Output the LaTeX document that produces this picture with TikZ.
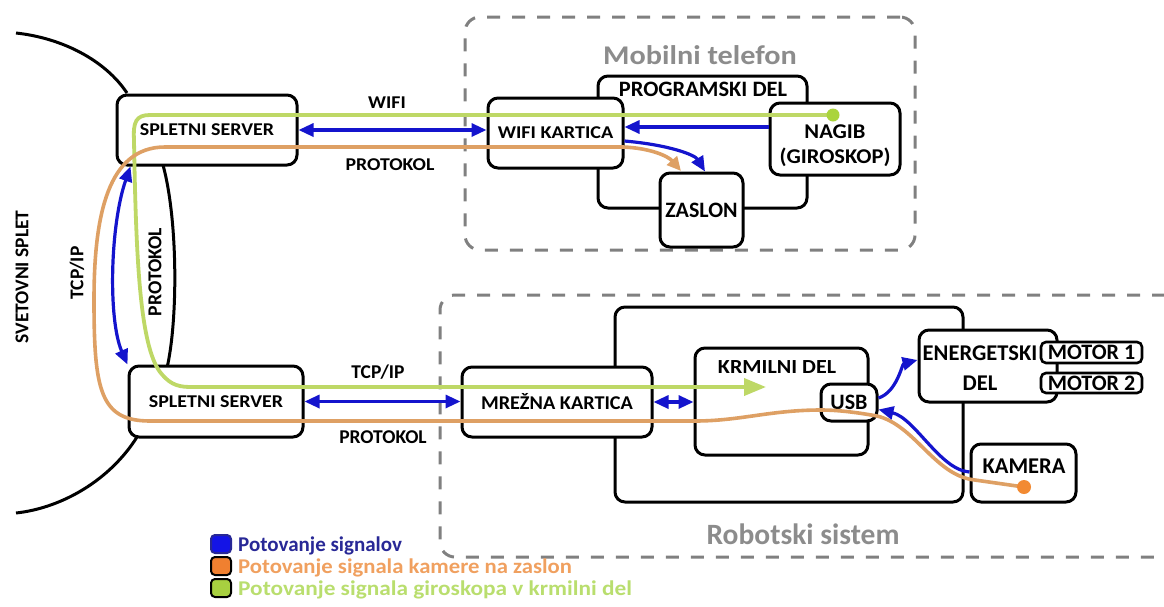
\documentclass[tikz,border=0pt]{standalone}
\usepackage{fontspec}
\setmainfont{Carlito}
\usetikzlibrary{arrows.meta}

\definecolor{sigblue}{RGB}{20,20,205}
\definecolor{camorange}{RGB}{222,160,100}
\definecolor{dotorange}{RGB}{242,138,50}
\definecolor{gyrogreen}{RGB}{190,216,102}
\definecolor{dotgreen}{RGB}{170,212,60}
\definecolor{framegray}{RGB}{128,128,128}
\definecolor{titlegray}{RGB}{140,140,140}
\definecolor{legblue}{RGB}{40,40,150}
\definecolor{legorange}{RGB}{240,160,95}
\definecolor{leggreen}{RGB}{185,222,110}
\definecolor{swblue}{RGB}{20,20,230}
\definecolor{sworange}{RGB}{240,128,48}
\definecolor{swgreen}{RGB}{168,208,64}

% bold label: size, horizontal stretch, text
\newcommand\lab[3]{\scalebox{#2}[1]{\fontsize{#1}{#1}\selectfont\bfseries #3}}

\begin{document}
\begin{tikzpicture}[x=1pt,y=-1pt,
  box/.style 2 args={draw=black, line width=3pt, rounded corners=10pt, fill=white,
    inner sep=0pt, minimum width=#1, minimum height=#2},
  smallbox/.style 2 args={draw=black, line width=2.6pt, rounded corners=5pt, fill=white,
    inner sep=0pt, minimum width=#1, minimum height=#2},
  frame/.style 2 args={draw=framegray, line width=3pt, dash pattern=on 13pt off 12pt,
    rounded corners=15pt, inner sep=0pt, minimum width=#1, minimum height=#2},
  txt/.style={inner sep=0pt, text=black},
  title/.style={inner sep=0pt, text=titlegray},
  rim/.style={draw=black, line width=3pt},
  bl/.style={draw=sigblue, line width=3.2pt, >={Triangle[length=15pt,width=13pt]}},
  og/.style={draw=camorange, line width=3.6pt},
  gr/.style={draw=gyrogreen, line width=3.8pt},
  swatch/.style={line width=2pt, rounded corners=4pt, minimum width=20pt, minimum height=18pt, inner sep=0pt},
  legtext/.style={inner sep=0pt, anchor=base west},
]
\useasboundingbox (0,0) rectangle (1164,606);

% ---- dashed enclosures ----
\node[frame={450pt}{233pt}] (mob) at (690,133.5) {};
\node[frame={740pt}{262pt}] (rob) at (810,426) {};
\node[title] (mobT) at (700,55) {\lab{27}{1.12}{Mobilni telefon}};
\node[title] (robT) at (803,534) {\lab{29.5}{1.0}{Robotski sistem}};

% ---- the world wide web outline ----
\draw[rim] (16,33) .. controls (62,38) and (105,60) .. (127,93);
\draw[rim] (163,165) .. controls (178,220) and (178,320) .. (167,368);
\draw[rim] (137,437) .. controls (110,480) and (62,508) .. (16,513);

% ---- servers ----
\node[box={180pt}{70pt}] (srvT) at (207,130) {\lab{18}{1.11}{SPLETNI SERVER}};
\node[box={174pt}{71pt}] (srvB) at (216,401.5) {\lab{18}{1.11}{SPLETNI SERVER}};

% ---- mobile phone ----
\node[box={209pt}{132pt}] (prog) at (702.5,142) {};
\node[txt] (progT) at (703,89) {\lab{22}{1.02}{PROGRAMSKI DEL}};
\node[box={135pt}{70pt}] (wifi) at (555.5,133) {\lab{18}{1.12}{WIFI KARTICA}};
\node[box={130pt}{72pt}] (nagib) at (835,139) {};
\node[txt, align=center, font=\fontsize{21}{25}\selectfont] (nagibT) at (835,145.5)
  {\lab{21}{1.07}{NAGIB}\\\lab{21}{1.07}{(GIROSKOP)}};
\node[box={83pt}{74pt}] (zaslon) at (701.5,210) {\lab{22}{1.0}{ZASLON}};

% ---- robot system ----
\node[box={348pt}{195pt}] (plat) at (789,404.5) {};
\node[box={190pt}{70pt}] (mrezna) at (557,402) {\lab{19.5}{1.04}{MREŽNA KARTICA}};
\node[box={173pt}{107pt}] (krm) at (781.5,401.5) {};
\node[txt] (krmT) at (777,367) {\lab{20}{1.1}{KRMILNI DEL}};
\node[box={56pt}{37pt}] (usb) at (849,402.5) {\lab{22}{1.0}{USB}};
\node[box={138pt}{72pt}] (energ) at (988,366) {};
\node[txt, align=center, font=\fontsize{22.5}{30}\selectfont] (energT) at (980,368)
  {\lab{22.5}{1.0}{ENERGETSKI}\\\lab{22.5}{1.0}{DEL}};
\node[smallbox={101pt}{21pt}] (mot1) at (1091.5,352.5) {\lab{22}{1.0}{MOTOR 1}};
\node[smallbox={101pt}{20pt}] (mot2) at (1091.5,383) {\lab{22}{1.0}{MOTOR 2}};
\node[box={105pt}{58pt}] (kamera) at (1023.5,473) {};
\node[txt] (kameraT) at (1024,466) {\lab{22.5}{1.0}{KAMERA}};

% ---- link labels ----
\node[txt] (lWifi) at (387,103) {\lab{18}{1.1}{WIFI}};
\node[txt] (lProtT) at (390,165) {\lab{18}{1.1}{PROTOKOL}};
\node[txt] (lTcpB) at (378,372) {\lab{19.5}{1.0}{TCP/IP}};
\node[txt] (lProtB) at (383,437) {\lab{19.5}{1.0}{PROTOKOL}};
\node[txt, rotate=90] (lWeb) at (22,277) {\lab{19.5}{1.0}{SVETOVNI SPLET}};
\node[txt, rotate=90] (lTcpL) at (77,273) {\lab{19.5}{1.0}{TCP/IP}};
\node[txt, rotate=90] (lProtL) at (155,272) {\lab{19.7}{1.0}{PROTOKOL}};

% ---- gyroscope signal (green) ----
\coordinate (gyroDot) at (833,115);
\draw[gr, -{Triangle[length=22pt,width=17pt]}] (gyroDot) -- (150,115)
  .. controls (136,115) and (133,122) .. (134,140)
  .. controls (136,260) and (140,345) .. (160,372)
  .. controls (168,382) and (175,387) .. (190,387) -- (766,387);
\fill[dotgreen] (gyroDot) circle (6.5pt);

% ---- camera signal (orange) ----
\coordinate (camDot) at (1024,487);
\draw[og, -{Triangle[length=14pt,width=13pt]}] (camDot) -- (975,480)
  .. controls (935,476) and (915,425) .. (877,416)
  .. controls (860,413) and (840,410) .. (821,410)
  .. controls (770,410) and (740,421) .. (695,421) -- (150,421)
  .. controls (100,421) and (94,390) .. (94,300)
  .. controls (94,215) and (108,147) .. (165,147) -- (623,147)
  .. controls (650,148) and (668,156) .. (681,171);
\fill[dotorange] (camDot) circle (7pt);

% ---- signal travel (blue) ----
\draw[bl, <->] (srvT.east) -- (srvT.east -| wifi.west);
\draw[bl, ->] (nagib.west |- 0,127) -- (wifi.east |- 0,127);
\draw[bl, ->] ([yshift=-8pt]wifi.east) .. controls (670,145) and (695,155) .. ([xshift=3.5pt]zaslon.north);
\draw[bl, <->] ([xshift=15pt]srvT.south west) .. controls (110,225) and (108,320) .. (srvB.north west);
\draw[bl, <->] (srvB.east) -- (srvB.east -| mrezna.west);
\draw[bl, <->] (mrezna.east) -- (mrezna.east -| krm.west);
\draw[bl, ->] ([yshift=4.5pt]usb.east) .. controls (897,392) and (902,364) .. ([yshift=6pt]energ.west);
\draw[bl, ->] ([yshift=1pt]kamera.west) .. controls (940,470) and (915,418) .. ([yshift=-7pt]usb.east);

% ---- legend ----
\node[swatch, fill=swblue, draw=legblue] (swB) at (221,544) {};
\node[swatch, fill=sworange, draw=black] (swO) at (221,566) {};
\node[swatch, fill=swgreen, draw=black] (swG) at (221,588) {};
\node[legtext, text=legblue] (legB) at (238,551) {\lab{21}{1.0}{Potovanje signalov}};
\node[legtext, text=legorange] (legO) at (238,573.5) {\lab{21}{1.08}{Potovanje signala kamere na zaslon}};
\node[legtext, text=leggreen] (legG) at (238,595.5) {\lab{21}{1.11}{Potovanje signala giroskopa v krmilni del}};
\end{tikzpicture}
\end{document}
